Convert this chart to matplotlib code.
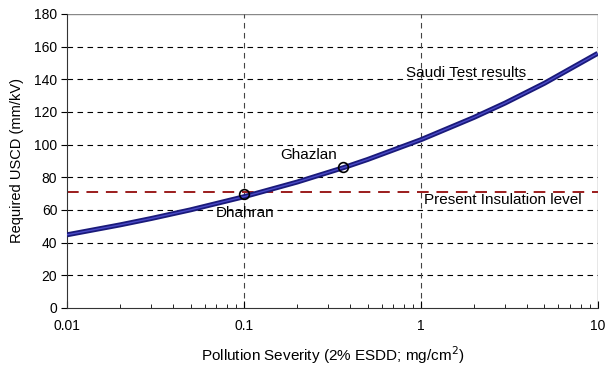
import numpy as np
import matplotlib
matplotlib.use("Agg")
import matplotlib.pyplot as plt
from matplotlib.ticker import FixedLocator, NullFormatter, LogLocator

plt.rcParams['font.family'] = ['Liberation Sans', 'DejaVu Sans']

# Required USCD vs. ESDD (Saudi test results)
esdd = [0.01, 0.02, 0.03, 0.05, 0.1, 0.2, 0.37, 0.5, 1, 2, 3, 5, 10]
uscd = [44.8, 50.9, 54.8, 60.1, 68.1, 77.1, 86.1, 90.9, 103.0, 116.7, 125.5, 137.6, 155.9]

# site measurements
site_names = ['Dhahran', 'Ghazlan']
site_esdd = [0.1, 0.362]
site_uscd = [69.5, 86.3]

present_level = 71

fig = plt.figure(figsize=(6.05, 3.67), dpi=100)
ax = fig.add_axes([0.1107, 0.1608, 0.8773, 0.8011])

ax.set_xscale('log')
ax.set_xlim(0.01, 10)
ax.set_ylim(0, 180)

# grid
for v in range(20, 180, 20):
    ax.axhline(v, color='black', lw=0.8, ls=(0, (5, 4)), zorder=1)
ax.axhline(180, color='#888888', lw=1.0, zorder=1)
for v in [0.1, 1]:
    ax.axvline(v, color='#444444', lw=0.8, ls=(0, (5, 4)), zorder=1)
ax.axvline(10, color='#888888', lw=1.0, zorder=1)

ax.axhline(present_level, color='#9b1c1c', lw=1.4, ls=(0, (6, 4)), zorder=2)

# double-stroke curve
ax.plot(esdd, uscd, color='#1a1a7a', lw=3.6, solid_capstyle='butt', zorder=3)
ax.plot(esdd, uscd, color='#4a4ac8', lw=1.0, solid_capstyle='butt', zorder=4)

ax.plot(site_esdd, site_uscd, 'o', ms=7, mfc='none', mec='black', mew=1.2, zorder=5)

ax.text(0.1014, 58.4, site_names[0], fontsize=11, ha='center', va='center')
ax.text(0.231, 93.7, site_names[1], fontsize=11, ha='center', va='center')
ax.text(1.795, 144.1, 'Saudi Test results', fontsize=11, ha='center', va='center')
ax.text(2.92, 66.1, 'Present Insulation level', fontsize=11, ha='center', va='center')

for s in ['top', 'right']:
    ax.spines[s].set_visible(False)
ax.spines['left'].set_color('#333333')
ax.spines['bottom'].set_color('#333333')

ax.set_yticks(range(0, 181, 20))
ax.xaxis.set_major_locator(FixedLocator([0.01, 0.1, 1, 10]))
ax.set_xticklabels(['0.01', '0.1', '1', '10'])
ax.xaxis.set_minor_locator(LogLocator(base=10, subs=np.arange(2, 10)))
ax.xaxis.set_minor_formatter(NullFormatter())
ax.tick_params(axis='y', direction='out', length=4, labelsize=10, pad=3)
ax.tick_params(axis='x', which='major', direction='in', length=5, labelsize=10, pad=8)
ax.tick_params(axis='x', which='minor', direction='in', length=3)

ax.set_xlabel('Pollution Severity (2% ESDD; mg/cm$^2$)', fontsize=11, labelpad=8)
ax.set_ylabel('Required USCD (mm/kV)', fontsize=10.5, labelpad=7)

fig.savefig('out.png', dpi=100)
